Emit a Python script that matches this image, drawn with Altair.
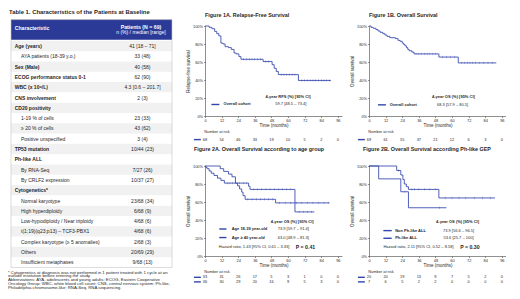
import altair as alt
import pandas as pd

FONT = "Liberation Sans"
INK = "#1f1f1f"
BLUE = "#3245ab"
RED = "#e3262c"
NAVY = "#2c3a97"
ZEBRA = "#f1f1f1"
EDGE = "#c4c4c4"

# ---------------- table data ----------------
TABLE_TITLE = "Table 1. Characteristics of the Patients at Baseline"
HEAD_LEFT = "Characteristic"
HEAD_RIGHT = ["Patients (N = 69)", "n (%) / median [range]"]
ROW_LABELS = [
    "Age (years)", "AYA patients (18-39 y.o.)", "Sex (Male)", "ECOG performance status 0-1",
    "WBC (x 10⁹/L)", "CNS involvement", "CD20 positivity", "1-19 % of cells", "≥ 20 % of cells",
    "Positive unspecified", "TP53 mutation", "Ph-like ALL", "By RNA-Seq", "By CRLF2 expression",
    "Cytogenetics*", "Normal karyotype", "High hyperdiploidy", "Low-hypodiploidy / Near triploidy",
    "t(1;19)(q23;p13) – TCF3-PBX1", "Complex karyotype (≥ 5 anomalies)", "Others",
    "Insufficient metaphases",
]
ROW_VALUES = [
    "41 [18 – 71]", "33 (48)", "40 (58)", "62 (90)", "4.3 [0.6 – 201.7]", "2 (3)", "",
    "23 (33)", "43 (62)", "3 (4)", "10/44 (23)", "", "7/27 (26)", "10/37 (27)", "",
    "23/68 (34)", "6/68 (9)", "4/68 (6)", "4/68 (6)", "2/68 (3)", "20/69 (29)", "9/68 (13)",
]
ROW_LEVEL = [0, 1, 0, 0, 0, 0, 0, 1, 1, 1, 0, 0, 1, 1, 0, 1, 1, 1, 1, 1, 1, 1]
FOOTNOTE = [
    "* Cytogenetics at diagnosis was not performed in 1 patient treated with 1 cycle at an",
    "outside institution before entering the study.",
    "Abbreviations: AYA, adolescents and young adults; ECOG, Eastern Cooperative",
    "Oncology Group; WBC, white blood cell count; CNS, central nervous system; Ph-like,",
    "Philadelphia chromosome-like; RNA-Seq, RNA sequencing.",
]

# ---------------- survival data ----------------
TIMES = [0, 12, 24, 36, 48, 60, 72, 84, 96]
PCT_TICKS = [0, 20, 40, 60, 80, 100]

# Figure 1A  relapse-free survival, overall cohort
RFS_T = [0, 3, 5, 7, 8.5, 10, 11.5, 13, 14.5, 17, 19, 21, 22.5, 24.5, 26, 42, 48.5, 50, 51.5, 53, 67.5, 91]
RFS_S = [100, 98.5, 97, 94, 91.5, 89, 81, 80, 77, 76, 74, 70, 69, 66, 63, 60.5, 57, 53, 49.5, 46, 39.5, 39.5]
RFS_CENSOR = [28, 30, 32, 34, 36, 38, 40, 44, 46, 55, 57, 59, 61, 63, 65, 70, 72, 74, 76, 78, 80, 82, 84, 86, 88, 90]
RFS_RISK = [68, 54, 46, 33, 19, 10, 5, 2, 0]

# Figure 1B  overall survival, overall cohort
OS_T = [0, 1.5, 3, 5, 6.5, 8, 10, 11.5, 13, 15, 19, 21, 22.5, 24, 25, 26, 27, 28, 29, 31, 32.5, 50.5, 64.5, 92]
OS_S = [100, 98.5, 97.5, 96, 94.5, 93, 91.5, 90, 88.5, 87, 86, 84, 83, 81, 79.5, 78, 76, 74, 72.5, 71, 69, 65.5, 59, 59]
OS_CENSOR = [34, 36, 38, 40, 42, 44, 46, 48, 53, 56, 59, 62, 67, 69, 71, 73, 75, 77, 80, 83, 86, 89]
OS_RISK = [69, 61, 55, 37, 21, 12, 6, 3, 0]

# Figure 2A  by age group
AYA_T = [0, 11, 13.5, 17, 19.5, 22, 31.5, 32.5, 65, 79]
AYA_S = [100, 97, 94, 91, 88, 81, 77.5, 74, 49, 49]
AYA_CENSOR = [25, 28, 30, 35, 38, 41, 44, 47, 50, 53, 56, 59, 62, 68, 71, 74, 77]
AYA_RISK = [33, 31, 26, 17, 5, 3, 1, 0, 0]
OLD_T = [0, 0.5, 1.5, 3, 4.5, 6.5, 9, 11.5, 14, 23.5, 25, 26.5, 27.5, 29, 51, 90]
OLD_S = [100, 98.5, 97, 94.5, 92, 89.5, 86.5, 84, 81, 78, 74.5, 71, 67, 63, 59, 59]
OLD_CENSOR = [16, 18, 20, 31, 34, 37, 40, 43, 46, 49, 54, 58, 62, 66, 70, 74, 78, 82, 86, 89]
OLD_RISK = [36, 30, 29, 20, 16, 9, 5, 3, 0]

# Figure 2B  by Ph-like GEP
NONPH_T = [0, 20, 23, 24.5, 25.5, 27, 28.5, 50.5, 91]
NONPH_S = [100, 95, 90, 85, 80, 77, 74, 64.5, 64.5]
NONPH_CENSOR = [21.5, 31, 33, 36, 40, 44, 48, 55, 60, 65, 70, 76, 82, 88]
NONPH_RISK = [20, 20, 19, 13, 9, 7, 5, 2, 0]
PH_T = [0, 7, 23, 28.5, 56]
PH_S = [100, 85.7, 71.4, 53.6, 53.6]
PH_CENSOR = [26, 51]
PH_RISK = [7, 6, 5, 2, 2, 0, 0, 0, 0]

TITLES = ["Figure 1A. Relapse-Free Survival", "Figure 1B. Overall Survival",
          "Figure 2A. Overall Survival according to age group",
          "Figure 2B. Overall Survival according Ph-like GEP"]
LEG_1A = ["4-year RFS (%) [95% CI]", "Overall cohort", "59.7 [48.5 – 73.4]"]
LEG_1B = ["4-year OS (%) [95% CI]", "Overall cohort", "68.3 [57.9 – 80.5]"]
LEG_2A = ["4-year OS (%) [95% CI]", "Age 18-39 year-old", "73.9 [59.7 – 91.4]",
          "Age ≥ 40 year-old", "63.0 [48.9 – 81.3]",
          "Hazard ratio, 1.43 [95% CI, 0.61 – 3.33]", "P = 0.41"]
LEG_2B = ["4-year OS (%) [95% CI]", "Non Ph-like ALL", "73.9 [56.6 – 96.5]",
          "Ph-like ALL", "53.6 [25.7 – 100]",
          "Hazard ratio, 2.11 [95% CI, 0.52 – 8.58]", "P = 0.30"]

# ---------------- layout ----------------
PW, PH = 137, 90
TW = 167
XS = alt.Scale(domain=[0, 99], nice=False, zero=False)
YS = alt.Scale(domain=[0, 100], nice=False, zero=False)
LEG_FS = 4.0
RISK_FS = 3.9
TBL_FS = 5.0


def step_value(T, S, t):
    v = S[0]
    for ti, si in zip(T, S):
        if ti <= t:
            v = si
    return v


def x_axis():
    return alt.Axis(values=TIMES, title="Time (months)", grid=False, labelFontSize=3.9,
                    titleFontSize=4.5, titleFontWeight="normal", tickSize=1.5, labelPadding=0.5,
                    titlePadding=0.3, domainWidth=0.6, tickWidth=0.6, domainColor="#444",
                    tickColor="#444", labelColor=INK, titleColor=INK, labelFont=FONT,
                    titleFont=FONT, labelFlush=False, labelOverlap=False)


def y_axis(title):
    return alt.Axis(values=PCT_TICKS, labelExpr="datum.value + '%'", title=title, grid=False,
                    labelFontSize=3.9, titleFontSize=4.5, titleFontWeight="normal", tickSize=1.5,
                    labelPadding=1, titlePadding=2, domainWidth=0.6, tickWidth=0.6,
                    domainColor="#444", tickColor="#444", labelColor=INK, titleColor=INK,
                    labelFont=FONT, titleFont=FONT, labelFlush=False, labelOverlap=False)


def txt(df, X, Y, **kw):
    base = dict(font=FONT, color=INK, baseline="middle")
    base.update(kw)
    return alt.Chart(pd.DataFrame(df)).mark_text(**base).encode(x=X, y=Y, text="txt:N")


def km_chart(title, tdx, toff, ytitle, series, head, head_x, head_y, legend, line_x, lab_x,
             val_x, hr=None):
    X = alt.X("t:Q", scale=XS, axis=x_axis())
    Y = alt.Y("s:Q", scale=YS, axis=y_axis(ytitle))
    names = [s["name"] for s in series]
    C = alt.Color("k:N", scale=alt.Scale(domain=names, range=[s["color"] for s in series]),
                  legend=None)
    line_df = pd.DataFrame([{"k": s["name"], "t": t, "s": v}
                            for s in series for t, v in zip(s["T"], s["S"])])
    cens_df = pd.DataFrame([{"k": s["name"], "t": c, "s": step_value(s["T"], s["S"], c)}
                            for s in series for c in s["C"]])
    layers = [
        alt.Chart(line_df).mark_line(interpolate="step-after", strokeWidth=0.85).encode(
            x=X, y=Y, color=C),
        alt.Chart(cens_df).mark_tick(orient="vertical", size=2.4, thickness=0.45).encode(
            x=X, y=Y, color=C),
        txt([{"t": head_x, "s": head_y, "txt": head}], X, Y, fontSize=LEG_FS, fontWeight="bold"),
    ]
    dash_df = pd.DataFrame([{"k": n, "t": line_x[0], "t2": line_x[1], "s": y}
                            for (n, lab, val, y) in legend])
    layers.append(alt.Chart(dash_df).mark_rule(strokeWidth=1.4).encode(
        x=X, x2="t2:Q", y=Y, color=C))
    layers.append(txt([{"t": lab_x, "s": y, "txt": lab} for (n, lab, val, y) in legend], X, Y,
                      fontSize=LEG_FS, fontWeight="bold", align="left"))
    layers.append(txt([{"t": val_x, "s": y, "txt": val} for (n, lab, val, y) in legend], X, Y,
                      fontSize=LEG_FS))
    if hr is not None:
        hr_text, hr_x, p_text, p_x, hr_y = hr
        layers.append(txt([{"t": hr_x, "s": hr_y, "txt": hr_text}], X, Y, fontSize=LEG_FS,
                          align="left"))
        layers.append(txt([{"t": p_x, "s": hr_y, "txt": p_text}], X, Y, fontSize=5.2,
                          fontWeight="bold", align="left"))
    return alt.layer(*layers).properties(
        width=PW, height=PH,
        title=alt.TitleParams(text=title, anchor="start", frame="group", dx=tdx, offset=toff,
                              fontSize=5.4, font=FONT, fontWeight="bold", color=INK))


def risk_chart(groups, height, title_y, row_ys):
    X = alt.X("t:Q", scale=XS, axis=None)
    R = alt.Y("r:Q", scale=alt.Scale(domain=[0, height], nice=False, zero=False, reverse=True),
              axis=None)
    names = [g[0] for g in groups]
    C = alt.Color("k:N", scale=alt.Scale(domain=names, range=[g[1] for g in groups]),
                  legend=None)
    num = [{"t": tm, "r": ry, "txt": str(n)} for g, ry in zip(groups, row_ys)
           for tm, n in zip(TIMES, g[2])]
    dash_df = pd.DataFrame([{"k": g[0], "t": -8, "t2": -3, "r": ry}
                            for g, ry in zip(groups, row_ys)])
    return alt.layer(
        alt.Chart(pd.DataFrame([{"t": -0.5, "r": title_y, "txt": "Number at risk"}])).mark_text(
            font=FONT, color=INK, baseline="middle", align="left", fontSize=RISK_FS).encode(
            x=X, y=R, text="txt:N"),
        alt.Chart(pd.DataFrame(num)).mark_text(font=FONT, color=INK, baseline="middle",
                                               fontSize=RISK_FS).encode(x=X, y=R, text="txt:N"),
        alt.Chart(dash_df).mark_rule(strokeWidth=1.4).encode(x=X, x2="t2:Q", y=R, color=C),
    ).properties(width=PW, height=height)


def table_chart():
    row0, row_px = 20.0, 10.3

    def ty(local):
        return (local - row0) / row_px

    TX = lambda f: alt.X(f + ":Q", scale=alt.Scale(domain=[0, TW], nice=False, zero=False),
                         axis=None)
    TY = lambda f: alt.Y(f + ":Q", scale=alt.Scale(domain=[ty(0), ty(PH)], nice=False,
                                                    zero=False, reverse=True), axis=None)
    n = len(ROW_LABELS)
    zebra = pd.DataFrame([{"x1": 3, "x2": 164, "y1": i - 0.5, "y2": i + 0.5}
                          for i in range(0, n, 2)])
    head_box = pd.DataFrame([{"x1": 3, "x2": 164, "y1": ty(-6.4), "y2": ty(13.7)}])
    frame = pd.DataFrame([{"x1": 3, "x2": 164, "y1": ty(-6.4), "y2": n - 0.5}])

    def rect(df, **kw):
        return alt.Chart(df).mark_rect(**kw).encode(x=TX("x1"), x2="x2:Q", y=TY("y1"),
                                                     y2="y2:Q")

    def ttxt(rows, **kw):
        base = dict(font=FONT, color=INK, baseline="middle", fontSize=TBL_FS)
        base.update(kw)
        return alt.Chart(pd.DataFrame(rows)).mark_text(**base).encode(
            x=TX("x"), y=TY("y"), text="txt:N")

    main = [{"x": 6.7, "y": i, "txt": l} for i, (l, lv) in enumerate(zip(ROW_LABELS, ROW_LEVEL))
            if lv == 0]
    sub = [{"x": 13, "y": i, "txt": l} for i, (l, lv) in enumerate(zip(ROW_LABELS, ROW_LEVEL))
           if lv == 1]
    vals = [{"x": 134.5, "y": i, "txt": v} for i, v in enumerate(ROW_VALUES) if v]
    foot_y = [246.5, 250.3, 254.1, 257.9, 261.7]
    foot = [{"x": 0, "y": ty(fy), "txt": f} for fy, f in zip(foot_y, FOOTNOTE)]
    return alt.layer(
        rect(zebra, color=ZEBRA),
        rect(head_box, color=NAVY),
        rect(frame, fillOpacity=0, stroke=EDGE, strokeWidth=0.6),
        ttxt([{"x": 1, "y": ty(-14.1), "txt": TABLE_TITLE}], fontSize=5.9, fontWeight="bold",
             align="left"),
        ttxt([{"x": 6.7, "y": ty(2.2), "txt": HEAD_LEFT}], color="white", fontWeight="bold",
             align="left", fontSize=5.2),
        ttxt([{"x": 133, "y": ty(0.8), "txt": HEAD_RIGHT[0]}], color="white", fontWeight="bold",
             fontSize=5.2),
        ttxt([{"x": 133, "y": ty(6.2), "txt": HEAD_RIGHT[1]}], color="white", fontSize=5.0),
        ttxt(main, fontWeight="bold", align="left"),
        ttxt(sub, align="left"),
        ttxt(vals),
        ttxt(foot, fontSize=4.3, align="left"),
    ).properties(width=TW, height=PH)


def spacer(w, h):
    sc = alt.Scale(domain=[0, 1])
    return alt.Chart(pd.DataFrame({"v": [0.5]})).mark_text(text=" ", opacity=0).encode(
        x=alt.X("v:Q", scale=sc, axis=None), y=alt.Y("v:Q", scale=sc, axis=None)
    ).properties(width=w, height=h)


f1a = km_chart(TITLES[0], 0, 5.5, "Relapse-free survival",
               [dict(name="Overall cohort", T=RFS_T, S=RFS_S, C=RFS_CENSOR, color=BLUE)],
               LEG_1A[0], 60, 21, [("Overall cohort", LEG_1A[1], LEG_1A[2], 12.8)],
               (4.6, 10.4), 13.4, 62)
f1b = km_chart(TITLES[1], 0, 5.5, "Overall survival",
               [dict(name="Overall cohort", T=OS_T, S=OS_S, C=OS_CENSOR, color=BLUE)],
               LEG_1B[0], 61, 21.6, [("Overall cohort", LEG_1B[1], LEG_1B[2], 12.4)],
               (6.5, 12.2), 15, 60.4)
f2a = km_chart(TITLES[2], -11, 11.5, "Overall survival",
               [dict(name="AYA", T=AYA_T, S=AYA_S, C=AYA_CENSOR, color=BLUE),
                dict(name="OLD", T=OLD_T, S=OLD_S, C=OLD_CENSOR, color=RED)],
               LEG_2A[0], 63, 38.3,
               [("AYA", LEG_2A[1], LEG_2A[2], 30), ("OLD", LEG_2A[3], LEG_2A[4], 20.5)],
               (10.3, 15.5), 19.3, 63.8, hr=(LEG_2A[5], 10, LEG_2A[6], 65.6, 9.7))
f2b = km_chart(TITLES[3], -6, 11.5, "Overall survival",
               [dict(name="NONPH", T=NONPH_T, S=NONPH_S, C=NONPH_CENSOR, color=BLUE),
                dict(name="PH", T=PH_T, S=PH_S, C=PH_CENSOR, color=RED)],
               LEG_2B[0], 64, 38.3,
               [("NONPH", LEG_2B[1], LEG_2B[2], 28.2), ("PH", LEG_2B[3], LEG_2B[4], 19.7)],
               (10.4, 16.4), 18.9, 64.7, hr=(LEG_2B[5], 10.4, LEG_2B[6], 65.9, 9.7))

r1a = risk_chart([("Overall cohort", BLUE, RFS_RISK)], 30, 5.9, [13.6])
r1b = risk_chart([("Overall cohort", BLUE, OS_RISK)], 30, 5.9, [13.6])
r2a = risk_chart([("AYA", BLUE, AYA_RISK), ("OLD", RED, OLD_RISK)], 20, 5.8, [11.3, 15.9])
r2b = risk_chart([("NONPH", BLUE, NONPH_RISK), ("PH", RED, PH_RISK)], 20, 5.8, [11.3, 15.9])

chart = alt.concat(
    table_chart(), f1a, f1b,
    spacer(TW, 30), r1a, r1b,
    spacer(TW + 3, PH), f2a, f2b,
    spacer(TW + 3, 20), r2a, r2b,
    columns=3, spacing={"row": 10, "column": 27}, bounds="flush", align="none",
).properties(padding=0).configure(font=FONT, view=alt.ViewConfig(strokeWidth=0))

chart.save("out.html", embed_options={"renderer": "svg", "actions": False})
